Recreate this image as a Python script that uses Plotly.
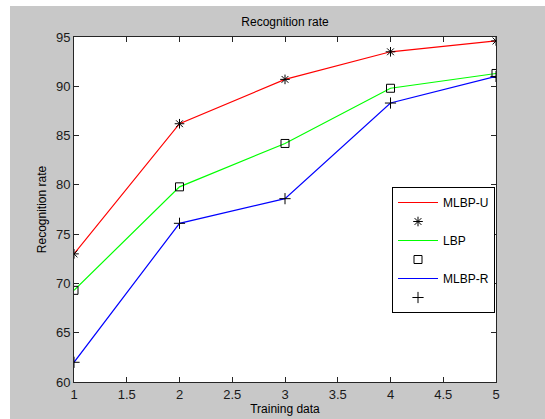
import plotly.graph_objects as go

training = [1, 2, 3, 4, 5]
mlbp_u = [73.0, 86.2, 90.7, 93.5, 94.6]
lbp = [69.3, 79.8, 84.2, 89.8, 91.3]
mlbp_r = [62.0, 76.1, 78.6, 88.3, 91.0]

series = [
    ("MLBP-U", mlbp_u, "#ff0000", "asterisk-open"),
    ("LBP", lbp, "#00ff00", "square-open"),
    ("MLBP-R", mlbp_r, "#0000ff", "cross-thin-open"),
]

FONT = "Liberation Sans, Arial, sans-serif"

fig = go.Figure()
for name, vals, color, sym in series:
    fig.add_trace(go.Scatter(x=training, y=vals, mode="lines", name=name,
                             line=dict(color=color, width=1.2)))
    fig.add_trace(go.Scatter(x=training, y=vals, mode="markers", name=" ",
                             marker=dict(symbol=sym, size=8, color="black",
                                         line=dict(color="black", width=1))))

W, H = 545, 419
L, R, T, B = 74, 49, 37, 37
pw, ph = W - L - R, H - T - B

def px_x(p):
    return (p - L) / pw

def px_y(p):
    return (H - B - p) / ph

GRAY = "#c8c8c8"

fig.update_layout(
    width=W, height=H,
    margin=dict(l=L, r=R, t=T, b=B, autoexpand=False),
    paper_bgcolor=GRAY,
    plot_bgcolor="white",
    title=dict(text="Recognition rate", x=0.5, xref="paper", xanchor="center",
               y=1 - 22 / H, yanchor="middle",
               font=dict(family=FONT, size=12, color="black")),
    xaxis=dict(range=[1, 5], dtick=0.5, tick0=1, ticks="inside", ticklen=5,
               tickcolor="#262626", showline=True, linecolor="#262626", mirror="ticks",
               showgrid=False, zeroline=False, automargin=False,
               tickfont=dict(family=FONT, size=13, color="#1a1a1a"),
               title=dict(text="Training data", standoff=4,
                          font=dict(family=FONT, size=12, color="black"))),
    yaxis=dict(range=[60, 95], dtick=5, ticks="inside", ticklen=5,
               tickcolor="#262626", showline=True, linecolor="#262626", mirror="ticks",
               showgrid=False, zeroline=False, automargin=False,
               tickfont=dict(family=FONT, size=13, color="#1a1a1a"),
               title=dict(text="Recognition rate", standoff=6,
                          font=dict(family=FONT, size=12, color="black"))),
    legend=dict(x=px_x(392), y=px_y(187), xanchor="left", yanchor="top",
                bgcolor="white", bordercolor="black", borderwidth=1,
                font=dict(family=FONT, size=12, color="black"),
                tracegroupgap=0, itemwidth=40),
    showlegend=True,
    shapes=[
        dict(type="rect", xref="paper", yref="paper", x0=px_x(-5), x1=px_x(10),
             y0=px_y(H + 50), y1=px_y(-5), fillcolor="white", line=dict(width=0), layer="below"),
        dict(type="rect", xref="paper", yref="paper", x0=px_x(-5), x1=px_x(W + 5),
             y0=px_y(6), y1=px_y(-5), fillcolor="white", line=dict(width=0), layer="below"),
    ],
)

fig.write_html("out.html", config={"displayModeBar": False},
               post_script="document.body.style.margin='0px';document.body.style.overflow='hidden';")
